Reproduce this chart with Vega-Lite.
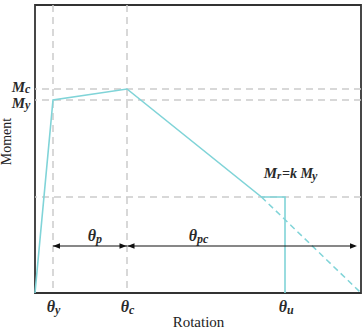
{
  "$schema": "https://vega.github.io/schema/vega-lite/v6.json",
  "width": 326,
  "height": 288,
  "autosize": {"type": "none"},
  "padding": {"left": 35, "top": 5, "right": 2, "bottom": 35},
  "background": "white",
  "config": {
    "view": {"stroke": "#333333", "strokeWidth": 1.8},
    "text": {"font": "Liberation Serif", "fontStyle": "italic", "fontWeight": "bold", "color": "#2a2a2a", "baseline": "alphabetic"}
  },
  "encoding": {
    "x": {"type": "quantitative", "scale": {"domain": [0, 326], "nice": false}, "axis": {"title": "Rotation", "labels": false, "ticks": false, "domain": false, "grid": false, "titleFont": "Liberation Serif", "titleFontSize": 15, "titleFontWeight": "normal", "titleColor": "#222222", "titleBaseline": "alphabetic", "titleY": 33}},
    "y": {"type": "quantitative", "scale": {"domain": [0, 288], "nice": false}, "axis": {"title": "Moment", "labels": false, "ticks": false, "domain": false, "grid": false, "titleFont": "Liberation Serif", "titleFontSize": 14, "titleFontWeight": "normal", "titleColor": "#222222", "titleBaseline": "alphabetic", "titleX": -25, "titleY": 136}}
  },
  "layer": [
    {
      "data": {"values": [{"x": 18}, {"x": 92}]},
      "mark": {"type": "rule", "color": "#cccccc", "strokeWidth": 1.5, "strokeDash": [7, 5]},
      "encoding": {"x": {"field": "x", "type": "quantitative"}}
    },
    {
      "data": {"values": [{"y": 204}, {"y": 193}, {"y": 96}]},
      "mark": {"type": "rule", "color": "#cccccc", "strokeWidth": 1.5, "strokeDash": [7, 5]},
      "encoding": {"y": {"field": "y", "type": "quantitative"}}
    },
    {
      "data": {"values": [{"x": 226.5, "y": 96}, {"x": 325, "y": 1}]},
      "mark": {"type": "line", "color": "#80d4d8", "strokeWidth": 1.5, "strokeDash": [6, 4]},
      "encoding": {"x": {"field": "x", "type": "quantitative"}, "y": {"field": "y", "type": "quantitative"}}
    },
    {
      "data": {"values": [
        {"i": 0, "x": 0, "y": 0},
        {"i": 1, "x": 18, "y": 193},
        {"i": 2, "x": 92, "y": 204},
        {"i": 3, "x": 226.5, "y": 96},
        {"i": 4, "x": 250, "y": 96},
        {"i": 5, "x": 250, "y": 0}
      ]},
      "mark": {"type": "line", "color": "#80d4d8", "strokeWidth": 1.6},
      "encoding": {"x": {"field": "x", "type": "quantitative"}, "y": {"field": "y", "type": "quantitative"}, "order": {"field": "i", "type": "quantitative"}}
    },
    {
      "data": {"values": [{"x1": 18, "x2": 92, "y": 47}, {"x1": 92.5, "x2": 320, "y": 47}]},
      "mark": {"type": "rule", "color": "#111111", "strokeWidth": 1.2},
      "encoding": {"x": {"field": "x1", "type": "quantitative"}, "x2": {"field": "x2"}, "y": {"field": "y", "type": "quantitative"}}
    },
    {
      "data": {"values": [
        {"x": 18, "y": 47, "dir": "left"},
        {"x": 91.5, "y": 47, "dir": "right"},
        {"x": 92.5, "y": 47, "dir": "left"},
        {"x": 322, "y": 47, "dir": "right"}
      ]},
      "mark": {"type": "point", "filled": true, "color": "#111111", "opacity": 1, "size": 49, "strokeWidth": 0},
      "encoding": {
        "x": {"field": "x", "type": "quantitative"},
        "y": {"field": "y", "type": "quantitative"},
        "shape": {"field": "dir", "type": "nominal", "scale": {"domain": ["left", "right"], "range": ["M0,0L2,-0.8L2,0.8Z", "M0,0L-2,-0.8L-2,0.8Z"]}, "legend": null}
      }
    },
    {
      "data": {"values": [{"x": 18, "sub": "y"}, {"x": 92, "sub": "c"}, {"x": 250, "sub": "u"}]},
      "layer": [
        {
          "mark": {"type": "text", "align": "right", "dx": 2, "dy": 19, "fontSize": 16, "text": "θ"},
          "encoding": {"x": {"field": "x", "type": "quantitative"}, "y": {"datum": 0}}
        },
        {
          "mark": {"type": "text", "align": "left", "dx": 2, "dy": 21, "fontSize": 12},
          "encoding": {"x": {"field": "x", "type": "quantitative"}, "y": {"datum": 0}, "text": {"field": "sub"}}
        }
      ]
    },
    {
      "data": {"values": [{"x": 61, "y": 47, "sub": "p"}, {"x": 162, "y": 47, "sub": "pc"}]},
      "layer": [
        {
          "mark": {"type": "text", "align": "right", "dx": 0, "dy": -5, "fontSize": 16, "text": "θ"},
          "encoding": {"x": {"field": "x", "type": "quantitative"}, "y": {"field": "y", "type": "quantitative"}}
        },
        {
          "mark": {"type": "text", "align": "left", "dx": 0, "dy": -3, "fontSize": 12},
          "encoding": {"x": {"field": "x", "type": "quantitative"}, "y": {"field": "y", "type": "quantitative"}, "text": {"field": "sub"}}
        }
      ]
    },
    {
      "data": {"values": [{"y": 204, "sub": "c"}, {"y": 193, "sub": "y"}]},
      "layer": [
        {
          "transform": [{"filter": "datum.sub == 'c'"}],
          "mark": {"type": "text", "align": "right", "dx": -10, "dy": 3, "fontSize": 15, "text": "M"},
          "encoding": {"x": {"datum": 0}, "y": {"field": "y", "type": "quantitative"}}
        },
        {
          "transform": [{"filter": "datum.sub == 'c'"}],
          "mark": {"type": "text", "align": "left", "dx": -10, "dy": 4, "fontSize": 12},
          "encoding": {"x": {"datum": 0}, "y": {"field": "y", "type": "quantitative"}, "text": {"field": "sub"}}
        },
        {
          "transform": [{"filter": "datum.sub == 'y'"}],
          "mark": {"type": "text", "align": "right", "dx": -10, "dy": 8, "fontSize": 15, "text": "M"},
          "encoding": {"x": {"datum": 0}, "y": {"field": "y", "type": "quantitative"}}
        },
        {
          "transform": [{"filter": "datum.sub == 'y'"}],
          "mark": {"type": "text", "align": "left", "dx": -10, "dy": 9, "fontSize": 12},
          "encoding": {"x": {"datum": 0}, "y": {"field": "y", "type": "quantitative"}, "text": {"field": "sub"}}
        }
      ]
    },
    {
      "data": {"values": [{"x": 250, "y": 96}]},
      "layer": [
        {
          "mark": {"type": "text", "align": "right", "dx": -8, "dy": -19, "fontSize": 15, "text": "M"},
          "encoding": {"x": {"field": "x", "type": "quantitative"}, "y": {"field": "y", "type": "quantitative"}}
        },
        {
          "mark": {"type": "text", "align": "left", "dx": -8, "dy": -18, "fontSize": 11, "text": "r"},
          "encoding": {"x": {"field": "x", "type": "quantitative"}, "y": {"field": "y", "type": "quantitative"}}
        },
        {
          "mark": {"type": "text", "align": "left", "dx": -3, "dy": -19, "fontSize": 14, "text": "=k M"},
          "encoding": {"x": {"field": "x", "type": "quantitative"}, "y": {"field": "y", "type": "quantitative"}}
        },
        {
          "mark": {"type": "text", "align": "left", "dx": 27, "dy": -17, "fontSize": 12, "text": "y"},
          "encoding": {"x": {"field": "x", "type": "quantitative"}, "y": {"field": "y", "type": "quantitative"}}
        }
      ]
    }
  ]
}
